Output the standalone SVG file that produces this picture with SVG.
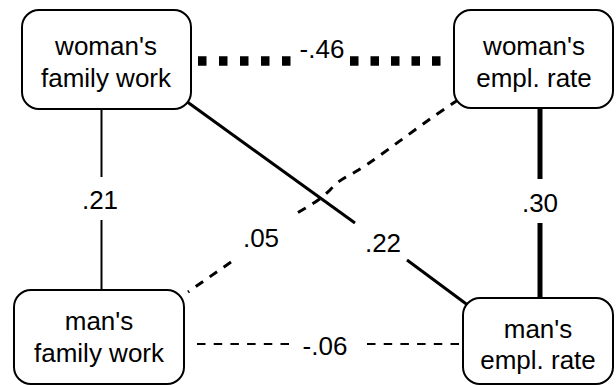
<svg xmlns="http://www.w3.org/2000/svg" width="616" height="385" viewBox="0 0 616 385">
<style>
.box{fill:#fff;stroke:#000;stroke-width:2}
text{font-family:"Liberation Sans",Arial,Helvetica,sans-serif;font-size:26px;fill:#000;text-anchor:middle}
.e{fill:none;stroke:#000}
</style>
<rect width="616" height="385" fill="#fff"/>
<g id="connectors">
<g id="e-wfw-wer">
<line class="e" x1="198" y1="61" x2="291" y2="61" stroke-width="9.5" stroke-dasharray="8.5 12.5"/>
<line class="e" x1="350" y1="61" x2="441" y2="61" stroke-width="9.5" stroke-dasharray="8.5 12"/>
<text x="322" y="58">-.46</text>
</g>
<g id="e-wfw-mfw">
<line class="e" x1="101.5" y1="109" x2="101.5" y2="177" stroke-width="2"/>
<line class="e" x1="101.5" y1="220" x2="101.5" y2="291" stroke-width="2"/>
<text x="100" y="209">.21</text>
</g>
<g id="e-wer-mer">
<line class="e" x1="540" y1="108" x2="540" y2="179" stroke-width="5"/>
<line class="e" x1="540" y1="223" x2="540" y2="299" stroke-width="5"/>
<text x="540" y="212">.30</text>
</g>
<g id="e-wfw-mer">
<line class="e" x1="186" y1="101" x2="355" y2="223" stroke-width="3"/>
<line class="e" x1="407" y1="260" x2="469" y2="306" stroke-width="3"/>
<text x="383" y="252">.22</text>
</g>
<g id="e-wer-mfw">
<path class="e" d="M458 100 C430 118 395 145 365 166 C350 176 340 178 330 190 C318 202 305 208 292 216" stroke-width="3" stroke-dasharray="9 8"/>
<path class="e" d="M231 262 L188 292" stroke-width="3" stroke-dasharray="9 8"/>
<text x="261" y="247">.05</text>
</g>
<g id="e-mfw-mer">
<line class="e" x1="197" y1="344" x2="292" y2="344" stroke-width="2" stroke-dasharray="8.5 8.2"/>
<line class="e" x1="367" y1="344" x2="462" y2="344" stroke-width="2" stroke-dasharray="8.5 8.2"/>
<text x="325" y="355">-.06</text>
</g>
</g>
<g id="n-wfw">
<rect class="box" x="22" y="10" width="169" height="99" rx="17"/>
<text x="106" y="55">woman's</text>
<text x="106" y="87">family work</text>
</g>
<g id="n-wer">
<rect class="box" x="454" y="10" width="159" height="98" rx="17"/>
<text x="534" y="55">woman's</text>
<text x="534" y="87">empl. rate</text>
</g>
<g id="n-mfw">
<rect class="box" x="14" y="290" width="170" height="94" rx="17"/>
<text x="99" y="330">man's</text>
<text x="99" y="362">family work</text>
</g>
<g id="n-mer">
<rect class="box" x="463" y="298" width="150" height="86" rx="17"/>
<text x="538" y="338">man's</text>
<text x="538" y="369">empl. rate</text>
</g>
</svg>
